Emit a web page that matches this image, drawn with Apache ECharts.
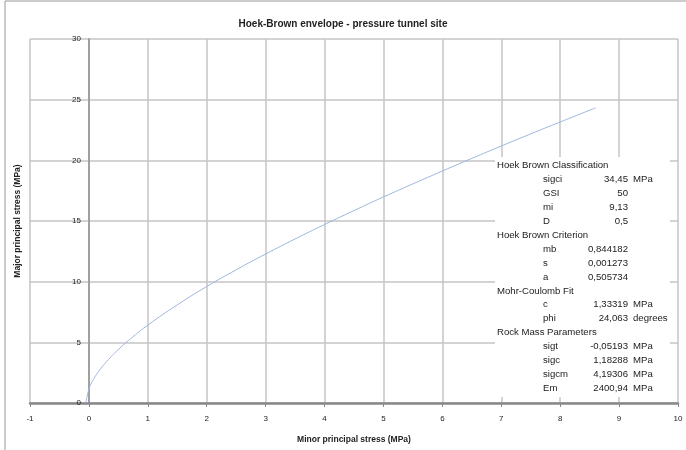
<!DOCTYPE html>
<html><head><meta charset="utf-8">
<script src="https://cdn.jsdelivr.net/npm/echarts@6/dist/echarts.min.js"></script>
<style>html,body{margin:0;padding:0;background:#fff}#c{width:686px;height:450px}</style>
</head><body><div id="c"></div>
<script>
// Minor principal stress sigma3 (MPa)
const sigma3 = [-0.052, 0, 0.02, 0.05, 0.1, 0.2, 0.3, 0.5, 0.75, 1, 1.5, 2, 2.5, 3, 3.5, 4, 4.5, 5, 5.5, 6, 6.5, 7, 7.5, 8, 8.6];
// Major principal stress sigma1 (MPa)
const sigma1 = [0, 1.18, 1.41, 1.71, 2.14, 2.83, 3.41, 4.41, 5.47, 6.42, 8.09, 9.60, 10.98, 12.28, 13.52, 14.71, 15.86, 16.98, 18.06, 19.12, 20.16, 21.18, 22.18, 23.16, 24.32];

const titleText = 'Hoek-Brown envelope - pressure tunnel site';
const xTitle = 'Minor principal stress (MPa)';
const yTitle = 'Major principal stress (MPa)';

// Text box table
const sections = [
  {head: 'Hoek Brown Classification', rows: [['sigci','34,45','MPa'],['GSI','50',''],['mi','9,13',''],['D','0,5','']]},
  {head: 'Hoek Brown Criterion', rows: [['mb','0,844182',''],['s','0,001273',''],['a','0,505734','']]},
  {head: 'Mohr-Coulomb Fit', rows: [['c','1,33319','MPa'],['phi','24,063','degrees']]},
  {head: 'Rock Mass Parameters', rows: [['sigt','-0,05193','MPa'],['sigc','1,18288','MPa'],['sigcm','4,19306','MPa'],['Em','2400,94','MPa']]}
];
const rowY = [165,179,193,207,221,235,249,263,277,291,304,318,332,346,360,374,388];

const font = '"Liberation Sans", Arial, sans-serif';
const graphics = [
  {type:'rect', shape:{x:5, y:1, width:720, height:480}, style:{fill:'none', stroke:'#999', lineWidth:1}, z:0, silent:true},
  {type:'rect', shape:{x:495, y:157, width:175, height:240}, style:{fill:'#fff'}, z:50}
];
let ri = 0;
sections.forEach(sec => {
  graphics.push({type:'text', x:497, y:rowY[ri], z:60, style:{text:sec.head, font:'9.6px '+font, fill:'#222', verticalAlign:'middle'}});
  ri++;
  sec.rows.forEach(r => {
    graphics.push({type:'text', x:543, y:rowY[ri], z:60, style:{text:r[0], font:'9.6px '+font, fill:'#222', verticalAlign:'middle'}});
    graphics.push({type:'text', x:628, y:rowY[ri], z:60, style:{text:r[1], font:'9.6px '+font, fill:'#222', align:'right', verticalAlign:'middle'}});
    if (r[2]) graphics.push({type:'text', x:633, y:rowY[ri], z:60, style:{text:r[2], font:'9.6px '+font, fill:'#222', verticalAlign:'middle'}});
    ri++;
  });
});

const chart = echarts.init(document.getElementById('c'), null, {renderer:'canvas'});
chart.setOption({
  animation:false,
  backgroundColor:'#fff',
  title:{text:titleText, left:'center', top:14, textStyle:{fontFamily:font, fontSize:10, fontWeight:'bold', color:'#222'}},
  grid:{left:30, right:8, top:39, bottom:47, containLabel:false, outerBoundsMode:'none'},
  xAxis:{type:'value', min:-1, max:10, interval:1,
    name:xTitle, nameLocation:'middle', nameGap:32,
    nameTextStyle:{fontFamily:font, fontSize:8.5, fontWeight:'bold', color:'#222'},
    axisLine:{onZero:true, lineStyle:{color:'#888', width:2.5}},
    axisTick:{show:true, length:4, lineStyle:{color:'#888', width:1}},
    axisLabel:{fontFamily:font, fontSize:8, color:'#222', margin:12},
    splitLine:{show:true, lineStyle:{color:'#c4c4c4', width:1.5}}
  },
  yAxis:{type:'value', min:0, max:30, interval:5, offset:-59,
    name:yTitle, nameLocation:'middle', nameGap:67, nameRotate:90,
    nameTextStyle:{fontFamily:font, fontSize:8.5, fontWeight:'bold', color:'#222'},
    axisLine:{onZero:false, lineStyle:{color:'#a0a0a0', width:2}},
    axisTick:{show:false},
    axisLabel:{fontFamily:font, fontSize:8, color:'#222', margin:8},
    splitLine:{show:true, lineStyle:{color:'#c4c4c4', width:1.5}}
  },
  series:[{type:'line', data:sigma3.map((x,i)=>[x, sigma1[i]]), showSymbol:false, smooth:true,
    lineStyle:{color:'#9fb5de', width:1}, z:3}],
  graphic:graphics
});
</script></body></html>
